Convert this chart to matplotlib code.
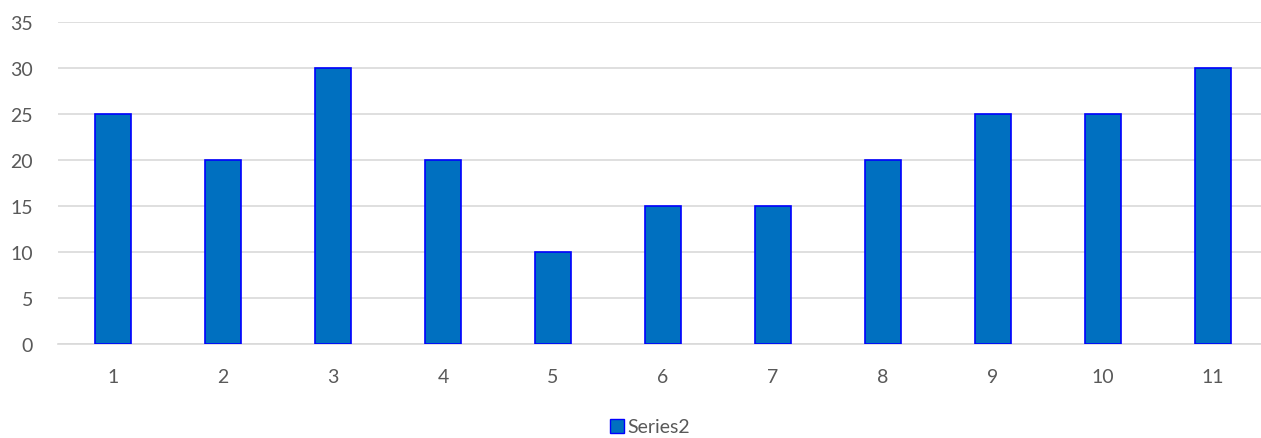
import matplotlib
matplotlib.use("Agg")
import matplotlib.pyplot as plt
from matplotlib.patches import Patch

categories = ["1", "2", "3", "4", "5", "6", "7", "8", "9", "10", "11"]
series2 = [25, 20, 30, 20, 10, 15, 15, 20, 25, 25, 30]
yticks = [0, 5, 10, 15, 20, 25, 30, 35]

plt.rcParams['font.family'] = ['Lato', 'DejaVu Sans']
W, H = 1261, 439
fig = plt.figure(figsize=(W / 100, H / 100), dpi=100)
ax = fig.add_axes([58 / W, 1 - 345 / H, 1210 / W, (345 - 23) / H])

x = list(range(len(categories)))
ax.bar(x, series2, width=0.32, color="#0070C0", edgecolor="#0000FF", linewidth=1.2, zorder=3)
ax.set_xlim(-0.5, len(categories) - 0.5)
ax.set_ylim(0, 35)
ax.set_yticks(yticks)
ax.set_xticks(x)
ax.set_xticklabels(categories)
ax.grid(axis="y", color="#D9D9D9", linewidth=1.2, zorder=0)
for s in ["top", "right", "left"]:
    ax.spines[s].set_visible(False)
ax.spines["bottom"].set_color("#D9D9D9")
ax.spines["bottom"].set_linewidth(1.2)
ax.tick_params(axis="both", length=0, labelsize=14, labelcolor="#595959")
ax.tick_params(axis="y", pad=18)
ax.tick_params(axis="x", pad=17)

handles = [Patch(facecolor="#0070C0", edgecolor="#0000FF", label="Series2")]
fig.legend(handles=handles, loc="center", bbox_to_anchor=(650 / W, 1 - 428 / H),
           frameon=False, fontsize=14, labelcolor="#595959",
           handlelength=0.7, handleheight=0.7, handletextpad=0.2)

fig.savefig("out.png", dpi=100)
